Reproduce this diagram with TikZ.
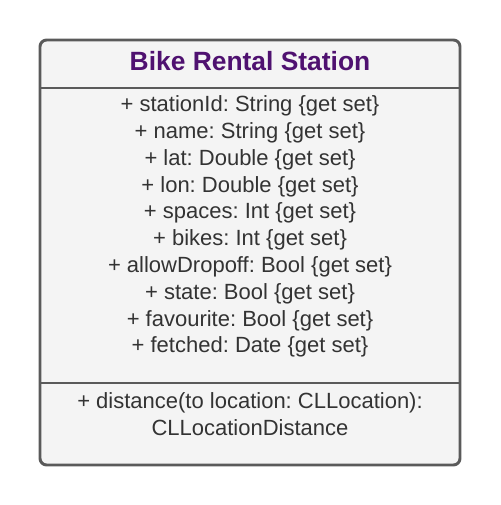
\documentclass[tikz,border=0pt]{standalone}
\usepackage{fontspec}
\setmainfont{Liberation Sans}
\definecolor{boxfill}{HTML}{F4F4F4}
\definecolor{boxline}{HTML}{5A5A5A}
\definecolor{titlecol}{HTML}{4F1170}
\definecolor{textcol}{HTML}{333333}
\begin{document}
\frenchspacing
\begin{tikzpicture}[x=0.75pt,y=-0.75pt,
    every node/.style={text=textcol,inner sep=0pt,font=\fontsize{16.5}{20}\selectfont},
    titletext/.style={text=titlecol,font=\fontsize{19.8}{24}\selectfont\bfseries},
    frame/.style={draw=boxline,line width=2.2pt,fill=boxfill,rounded corners=5pt}]
  \useasboundingbox (0,0) rectangle (500,505);
  % class box
  \coordinate (tl) at (40,40);
  \coordinate (br) at (460,465);
  \path[frame] (tl) rectangle (br);
  \draw[boxline,line width=2.2pt] (40,88) -- (460,88);
  \draw[boxline,line width=2.2pt] (40,383) -- (460,383);
  \node[titletext] (title) at (250,61) {Bike Rental Station};
  % attributes
  \foreach \attr [count=\i from 0] in {{+ stationId: String \{get set\}},
      {+ name: String \{get set\}}, {+ lat: Double \{get set\}},
      {+ lon: Double \{get set\}}, {+ spaces: Int \{get set\}},
      {+ bikes: Int \{get set\}}, {+ allowDropoff: Bool \{get set\}},
      {+ state: Bool \{get set\}}, {+ favourite: Bool \{get set\}},
      {+ fetched: Date \{get set\}}}
    \node (a\i) at (250,{106+26.8*\i}) {\attr};
  % operations
  \node (op1) at (250,403) {+ distance(to location: CLLocation):};
  \node (op2) at (250,428) {CLLocationDistance};
\end{tikzpicture}
\end{document}
